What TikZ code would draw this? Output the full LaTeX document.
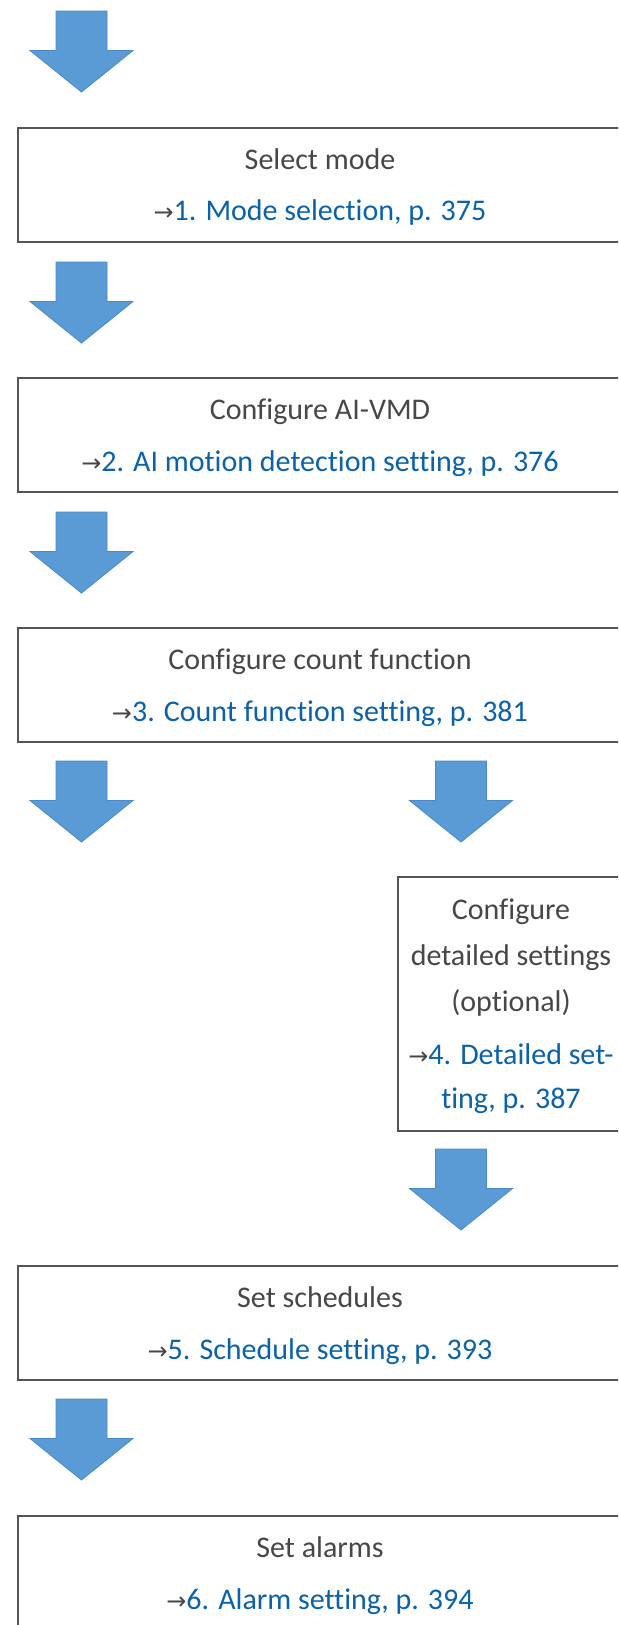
\documentclass[tikz,border=0pt]{standalone}
\usepackage{fontspec}
\setmainfont{Carlito}[Ligatures={NoCommon}]
\newfontfamily\arrowfont{DejaVu Sans}
\definecolor{boxgray}{HTML}{555555}
\definecolor{txtgray}{HTML}{474747}
\definecolor{linkblue}{HTML}{0B62A8}
\definecolor{arrowblue}{HTML}{5B9BD5}
\definecolor{arrowedge}{HTML}{4A89C6}
\newcommand{\refarrow}{{\color{txtgray}\arrowfont\fontsize{18}{20}\selectfont →}}
\begin{document}
\begin{tikzpicture}[x=0.75pt,y=-0.75pt,
  stepbox/.style={draw=boxgray, line width=1.5pt, inner sep=0pt, outer sep=0pt,
    anchor=north west, minimum width=453pt},
  ttl/.style={text=txtgray, font=\fontsize{22.5}{27}\selectfont, anchor=base, inner sep=0pt},
  lnk/.style={text=linkblue, font=\fontsize{22.5}{27}\selectfont, anchor=base, inner sep=0pt},
  dnarrow/.pic={\fill[arrowblue, draw=arrowedge, line width=0.6pt, line join=miter]
     (-25.5,0) -- (25.5,0) -- (25.5,39.5) -- (51.5,39.5) -- (0,81)
     -- (-51.5,39.5) -- (-25.5,39.5) -- cycle;}]
\useasboundingbox (0,0) rectangle (618,1625);
\clip (0,0) rectangle (618,1625);
\fill[white] (0,0) rectangle (618,1625);

% block arrows
\pic (ar1) at (81.5,11) {dnarrow};
\pic (ar2) at (81.5,262) {dnarrow};
\pic (ar3) at (81.5,512) {dnarrow};
\pic (ar4l) at (81.5,761) {dnarrow};
\pic (ar4r) at (461,761) {dnarrow};
\pic (ar5) at (461,1149) {dnarrow};
\pic (ar6) at (81.5,1399) {dnarrow};

% boxes
\node[stepbox, minimum height=85.5pt] (b1) at (18,128) {};
\node[stepbox, minimum height=85.5pt] (b2) at (18,378) {};
\node[stepbox, minimum height=85.5pt] (b3) at (18,628) {};
\node[stepbox, minimum width=169.5pt, minimum height=190.5pt] (b4) at (398,877) {};
\node[stepbox, minimum height=85.5pt] (b5) at (18,1266) {};
\node[stepbox, minimum height=180pt] (b6) at (18,1516) {};

% texts
\node[ttl] (t1) at (320,169) {Select mode};
\node[lnk] (l1) at (320,220) {\refarrow1. Mode selection, p. 375};
\node[ttl] (t2) at (320,419) {Configure AI-VMD};
\node[lnk] (l2) at (320,471) {\refarrow2. AI motion detection setting, p. 376};
\node[ttl] (t3) at (320,669) {Configure count function};
\node[lnk] (l3) at (320,721) {\refarrow3. Count function setting, p. 381};
\node[ttl] (t4a) at (511,919) {Configure};
\node[ttl] (t4b) at (511,965) {detailed settings};
\node[ttl] (t4c) at (511,1011) {(optional)};
\node[lnk] (l4a) at (511,1064) {\refarrow4. Detailed set-};
\node[lnk] (l4b) at (511,1108) {ting, p. 387};
\node[ttl] (t5) at (320,1307) {Set schedules};
\node[lnk] (l5) at (320,1359) {\refarrow5. Schedule setting, p. 393};
\node[ttl] (t6) at (320,1557) {Set alarms};
\node[lnk] (l6) at (320,1609) {\refarrow6. Alarm setting, p. 394};
\end{tikzpicture}
\end{document}
